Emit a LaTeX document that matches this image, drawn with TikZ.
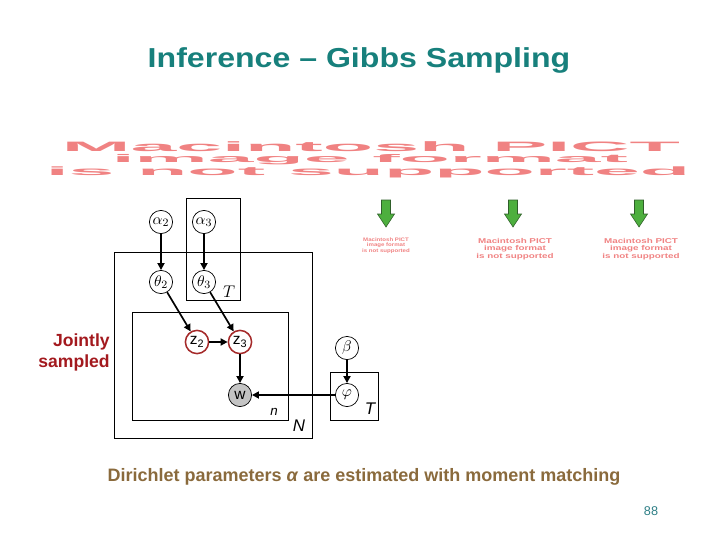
\documentclass[tikz,border=0pt]{standalone}
\usepackage{fontspec}
\setmainfont{Liberation Sans}
\usetikzlibrary{arrows.meta}
\definecolor{titleTeal}{HTML}{17807C}
\definecolor{pictPink}{HTML}{F08282}
\definecolor{jointRed}{HTML}{A3191E}
\definecolor{noteBrown}{HTML}{8A6A3C}
\definecolor{numTeal}{HTML}{2E7F86}
\definecolor{grnFill}{HTML}{4DAF3E}
\definecolor{grnDraw}{HTML}{2F5F2A}
\definecolor{obsFill}{HTML}{C4C4C4}
\definecolor{zDraw}{HTML}{A52A2A}

\begin{document}
\begin{tikzpicture}[
  x=0.025cm, y=-0.025cm,
  var/.style={circle, draw, line width=0.5pt, minimum size=5.8mm, inner sep=0pt, font=\fontsize{11}{11}\selectfont},
  zvar/.style={var, draw=zDraw, line width=1.1pt},
  obs/.style={var, fill=obsFill},
  plate/.style={draw, line width=0.6pt},
  arr/.style={-{Triangle[length=5pt,width=5pt]}, line width=1.2pt},
  pict/.style={text=pictPink, font=\bfseries, inner sep=0pt},
  note/.style={text=pictPink, font=\bfseries, align=center, inner sep=0pt},
  lbl/.style={inner sep=0pt, font=\itshape},
]
\useasboundingbox (0,0) rectangle (720,540);

% ---- Title ----
\node[text=titleTeal, font=\fontsize{19.5}{22}\selectfont\bfseries, xscale=1.17] (title) at (359,60)
   {Inference -- Gibbs Sampling};

% ---- Missing picture banner ----
\node[pict] (pict1) at (371,147) {\resizebox*{15.45cm}{0.25cm}{Macintosh PICT}};
\node[pict] (pict2) at (370,160) {\resizebox*{12.9cm}{0.26cm}{image format}};
\node[pict] (pict3) at (368,172) {\resizebox*{16.1cm}{0.28cm}{is not supported}};

% ---- Green arrows with small notes ----
\foreach \ax in {386,513,639}{
  \filldraw[fill=grnFill, draw=grnDraw, line width=0.4pt]
     ({\ax-4.5},200) -- ({\ax+4.5},200) -- ({\ax+4.5},214) -- ({\ax+8.5},214)
     -- (\ax,227) -- ({\ax-8.5},214) -- ({\ax-4.5},214) -- cycle;
}
\node[note, font=\fontsize{3.6}{3.3}\selectfont\bfseries, xscale=1.2] (note1) at (386,246)
   {Macintosh PICT\\image format\\is not supported};
\node[note, font=\fontsize{5}{4.6}\selectfont\bfseries, xscale=1.4] (note2) at (515,249)
   {Macintosh PICT\\image format\\is not supported};
\node[note, font=\fontsize{5}{4.6}\selectfont\bfseries, xscale=1.4] (note3) at (641,249)
   {Macintosh PICT\\image format\\is not supported};

% ---- Plates ----
\draw[plate] (186,198) rectangle (240,300);
\draw[plate] (114,252) rectangle (312,438);
\draw[plate] (132,312) rectangle (288,420);
\draw[plate] (330,372) rectangle (378,420);
\node[lbl, font=\fontsize{13}{13}\selectfont] (tUp) at (229,292) {$T$};
\node[lbl, font=\fontsize{12}{12}\selectfont\itshape] (nLbl) at (299,426) {N};
\node[lbl, font=\fontsize{9.5}{9.5}\selectfont\itshape] (nSmall) at (274,412) {n};
\node[lbl, font=\fontsize{12}{12}\selectfont\itshape] (tLow) at (370,409) {T};

% ---- Variables ----
\node[var] (a2) at (161,222) {$\alpha_2$};
\node[var] (a3) at (204,222) {$\alpha_3$};
\node[var] (t2) at (161,282) {$\theta_2$};
\node[var] (t3) at (204,282) {$\theta_3$};
\node[zvar] (z2) at (197,342) {z\textsubscript{2}};
\node[zvar] (z3) at (240,342) {z\textsubscript{3}};
\node[obs] (w) at (240,395) {w};
\node[var] (beta) at (347,348) {$\beta$};
\node[var] (phi) at (347,395) {$\varphi$};

\draw[arr] (a2) -- (t2);
\draw[arr] (a3) -- (t3);
\draw[arr] (t2) -- (z2);
\draw[arr] (t3) -- (z3);
\draw[arr] (z2) -- (z3);
\draw[arr] (z3) -- (w);
\draw[arr] (beta) -- (phi);
\draw[arr] (phi) -- (w);

\node[text=jointRed, font=\fontsize{12.5}{15}\selectfont\bfseries, align=right, anchor=east, inner sep=0pt] (joint) at (110,352)
   {Jointly\\sampled};

% ---- Bottom line ----
\node[text=noteBrown, font=\fontsize{12.8}{14}\selectfont\bfseries] (moment) at (364,477)
   {Dirichlet parameters \textit{α} are estimated with moment matching};
\node[text=numTeal, font=\fontsize{9}{10}\selectfont] (page) at (651,511) {88};

\end{tikzpicture}
\end{document}
